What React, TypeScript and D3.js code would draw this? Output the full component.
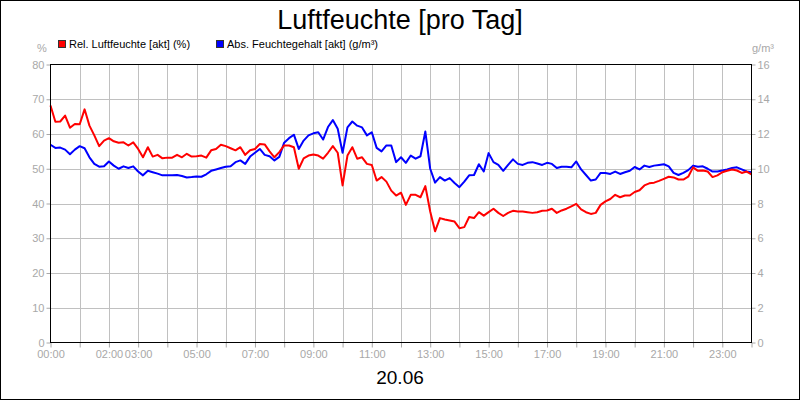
import React, { useEffect, useRef } from 'react';
import * as d3 from 'd3';

const W = 800;
const H = 400;
const PLOT = { left: 50, right: 751, top: 64, bottom: 342 };
const FONT = '"Liberation Sans", Arial, sans-serif';

// readings every 10 minutes, 00:00 .. 24:00
const STEP_MIN = 10;

// Rel. Luftfeuchte [akt] (%)
const relHumidity = [
  68.2, 63.5, 63.6, 65.3, 61.8, 62.9, 62.8, 67.1, 62.4, 59.6, 56.5, 58.1, 58.8, 57.9, 57.5,
  57.6, 56.7, 57.6, 55.7, 53.3, 56.2, 53.5, 54.0, 53.0, 53.2, 53.2, 54.0, 53.3, 54.3,
  53.5, 53.6, 53.8, 53.2, 55.3, 55.7, 56.9, 56.5, 55.9, 55.3, 56.2, 54.0, 55.3, 55.7, 57.1,
  57.0, 55.0, 53.3, 54.8, 56.7, 56.7, 56.2, 50.0, 53.0, 53.8, 54.1, 53.8, 52.9, 54.6,
  56.5, 54.6, 45.2, 53.8, 56.2, 52.9, 53.3, 51.4, 51.1, 46.6, 47.6, 46.3, 43.7, 42.3, 43.1,
  39.6, 42.5, 42.5, 41.8, 45.0, 37.7, 32.0, 35.8, 35.4, 35.1, 34.8, 32.9, 33.2, 36.1,
  35.8, 37.5, 36.5, 37.5, 38.5, 37.3, 36.4, 37.3, 37.9, 37.7, 37.7, 37.5, 37.3, 37.5, 37.9,
  38.0, 38.5, 37.3, 38.0, 38.5, 39.2, 39.9, 38.3, 37.5, 37.0, 37.3, 39.6, 40.6, 41.3,
  42.5, 41.8, 42.3, 42.3, 43.3, 43.8, 45.2, 45.8, 46.0, 46.5, 47.1, 47.7, 47.5, 46.9, 46.9,
  47.7, 50.4, 49.4, 49.5, 49.2, 47.6, 48.1, 49.0, 49.4, 49.8, 49.5, 48.8, 49.2, 48.4,
];

// Abs. Feuchtegehalt [akt] (g/m³)
const absHumidity = [
  11.38, 11.2, 11.22, 11.1, 10.84, 11.1, 11.3, 11.18, 10.66, 10.28, 10.12, 10.14, 10.42, 10.18, 10.0,
  10.14, 10.04, 10.14, 9.84, 9.62, 9.88, 9.8, 9.72, 9.62, 9.62, 9.62, 9.64, 9.58, 9.5,
  9.52, 9.56, 9.54, 9.68, 9.88, 9.96, 10.04, 10.12, 10.14, 10.38, 10.48, 10.28, 10.7, 10.92, 11.14,
  10.8, 10.72, 10.48, 10.68, 11.5, 11.76, 11.96, 11.14, 11.62, 11.92, 12.04, 12.1, 11.68, 12.4,
  12.8, 12.3, 10.92, 12.38, 12.72, 12.48, 12.38, 11.92, 12.1, 11.2, 11.0, 11.34, 11.34, 10.38, 10.66,
  10.34, 10.76, 10.58, 10.72, 12.14, 10.0, 9.2, 9.52, 9.32, 9.46, 9.18, 8.94, 9.26, 9.62,
  9.64, 10.26, 9.84, 10.9, 10.38, 10.22, 9.88, 10.22, 10.54, 10.28, 10.22, 10.34, 10.38, 10.3, 10.22,
  10.34, 10.28, 10.04, 10.12, 10.12, 10.08, 10.42, 9.96, 9.64, 9.32, 9.38, 9.76, 9.76, 9.7,
  9.84, 9.7, 9.8, 9.88, 10.1, 9.96, 10.18, 10.1, 10.18, 10.22, 10.26, 10.14, 9.76, 9.64, 9.76,
  9.92, 10.18, 10.12, 10.14, 10.0, 9.84, 9.84, 9.9, 9.96, 10.04, 10.08, 9.96, 9.84, 9.8,
];

const hourTicks = d3.range(0, 25);
const hourLabels = [0, 2, 3, 5, 7, 9, 11, 13, 15, 17, 19, 21, 23];
const leftTicks = [0, 10, 20, 30, 40, 50, 60, 70, 80];
const rightTicks = [0, 2, 4, 6, 8, 10, 12, 14, 16];

const GRID = '#c0c0c0';
const AXIS_TEXT = '#a8a8a8';

export default function App() {
  const ref = useRef<SVGSVGElement>(null);

  useEffect(() => {
    const svg = d3.select(ref.current);
    svg.selectAll('*').remove();

    const x = d3.scaleLinear().domain([0, 24 * 60]).range([PLOT.left + 0.5, PLOT.right + 0.5]);
    const y = d3.scaleLinear().domain([0, 80]).range([PLOT.bottom + 0.5, PLOT.top + 0.5]);
    const y2 = d3.scaleLinear().domain([0, 16]).range([PLOT.bottom + 0.5, PLOT.top + 0.5]);

    svg.append('rect')
      .attr('x', 0.5).attr('y', 0.5).attr('width', W - 1).attr('height', H - 1)
      .attr('fill', '#fff').attr('stroke', '#000');

    // grid
    const grid = svg.append('g').attr('stroke', GRID).attr('stroke-width', 1);
    grid.selectAll('line.h').data(leftTicks.slice(1, -1)).join('line')
      .attr('x1', PLOT.left).attr('x2', PLOT.right)
      .attr('y1', (d) => Math.round(y(d)) + 0.5).attr('y2', (d) => Math.round(y(d)) + 0.5);
    grid.selectAll('line.v').data(hourTicks.slice(1, -1)).join('line')
      .attr('x1', (d) => Math.round(x(d * 60)) + 0.5).attr('x2', (d) => Math.round(x(d * 60)) + 0.5)
      .attr('y1', PLOT.top).attr('y2', PLOT.bottom);

    const styleAxis = (g: any) => {
      g.select('.domain').remove();
      g.selectAll('line').attr('stroke', AXIS_TEXT);
      g.selectAll('text').attr('fill', AXIS_TEXT).attr('font-size', 11).attr('font-family', FONT);
    };

    svg.append('g')
      .attr('transform', `translate(${PLOT.left + 0.5},0)`)
      .call(d3.axisLeft(y).tickValues(leftTicks).tickSize(4).tickPadding(2))
      .call(styleAxis);

    svg.append('g')
      .attr('transform', `translate(${PLOT.right + 0.5},0)`)
      .call(d3.axisRight(y2).tickValues(rightTicks).tickSize(4).tickPadding(2))
      .call(styleAxis);

    svg.append('g')
      .attr('transform', `translate(0,${PLOT.bottom + 0.5})`)
      .call(
        d3.axisBottom(x)
          .tickValues(hourTicks.map((h) => h * 60))
          .tickSize(5)
          .tickPadding(3)
          .tickFormat((m: any) => {
            const h = m / 60;
            return hourLabels.includes(h) ? `${String(h).padStart(2, '0')}:00` : '';
          })
      )
      .call(styleAxis);

    // series
    const relLine = d3.line<number>().x((_, i) => x(i * STEP_MIN)).y((d) => y(d));
    const absLine = d3.line<number>().x((_, i) => x(i * STEP_MIN)).y((d) => y2(d));

    svg.append('path').attr('d', absLine(absHumidity))
      .attr('fill', 'none').attr('stroke', '#0000ff').attr('stroke-width', 2).attr('stroke-linejoin', 'round');
    svg.append('path').attr('d', relLine(relHumidity))
      .attr('fill', 'none').attr('stroke', '#ff0000').attr('stroke-width', 2).attr('stroke-linejoin', 'round');

    // frame
    svg.append('rect')
      .attr('x', PLOT.left + 0.5).attr('y', PLOT.top + 0.5)
      .attr('width', PLOT.right - PLOT.left).attr('height', PLOT.bottom - PLOT.top)
      .attr('fill', 'none').attr('stroke', '#000');

    // units
    svg.append('text').text('%')
      .attr('x', 42).attr('y', 52).attr('text-anchor', 'middle')
      .attr('fill', AXIS_TEXT).attr('font-size', 11).attr('font-family', FONT);
    svg.append('text').text('g/m³')
      .attr('x', 763).attr('y', 52).attr('text-anchor', 'middle')
      .attr('fill', AXIS_TEXT).attr('font-size', 11).attr('font-family', FONT);

    // legend
    const legend = [
      { label: 'Rel. Luftfeuchte [akt] (%)', color: '#ff0000', x: 58 },
      { label: 'Abs. Feuchtegehalt [akt] (g/m³)', color: '#0000ff', x: 216 },
    ];
    const lg = svg.append('g').selectAll('g').data(legend).join('g')
      .attr('transform', (d) => `translate(${d.x},0)`);
    lg.append('rect').attr('x', 0.5).attr('y', 40.5).attr('width', 7).attr('height', 7)
      .attr('fill', (d) => d.color).attr('stroke', '#333');
    lg.append('text').text((d) => d.label).attr('x', 11).attr('y', 48)
      .attr('font-size', 11).attr('font-family', FONT).attr('fill', '#000');

    // titles
    svg.append('text').text('Luftfeuchte [pro Tag]')
      .attr('x', 400).attr('y', 29).attr('text-anchor', 'middle')
      .attr('font-size', 27).attr('font-family', FONT).attr('fill', '#000');
    svg.append('text').text('20.06')
      .attr('x', 400).attr('y', 384).attr('text-anchor', 'middle')
      .attr('font-size', 19).attr('font-family', FONT).attr('fill', '#000');
  }, []);

  return (
    <svg
      ref={ref}
      width={W}
      height={H}
      viewBox={`0 0 ${W} ${H}`}
      style={{ position: 'absolute', left: 0, top: 0, display: 'block' }}
    />
  );
}
